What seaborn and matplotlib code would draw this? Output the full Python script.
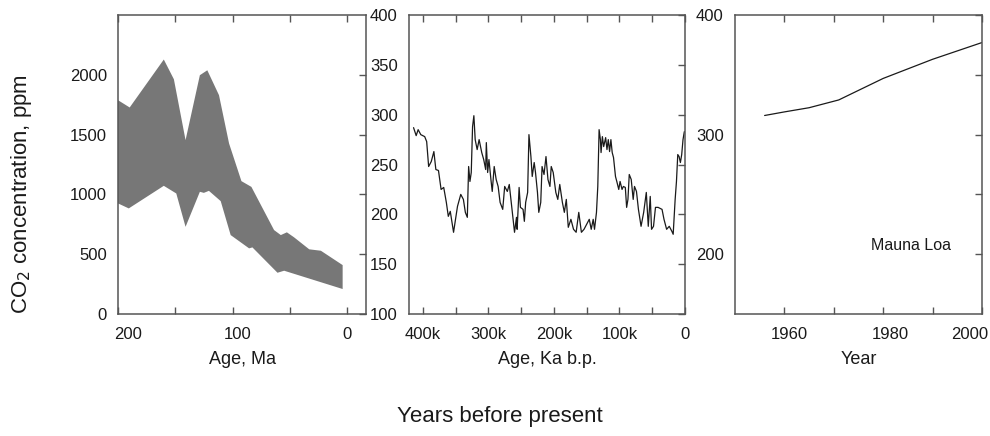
import numpy as np
import pandas as pd
import matplotlib
matplotlib.use('Agg')
import matplotlib.pyplot as plt
import matplotlib.transforms as mtrans
import seaborn as sns

sns.set_theme(style='ticks')
plt.rcParams['font.family'] = ['Liberation Sans', 'DejaVu Sans']

# Panel 1: CO2 range over the last 200 Ma (upper and lower bound)
upper_age = [200, 189.8, 160, 151.2, 141, 128.5, 122, 111.8, 103, 92.2, 83.5,
             63.7, 57.8, 52.5, 46.2, 33, 22.8, 3.8]
upper_co2 = [1788, 1727, 2128, 1963, 1454, 1997, 2038, 1830, 1426, 1111, 1063,
             702, 660, 683, 641, 541, 529, 409]
lower_age = [200, 190.6, 160, 149.1, 141, 128.5, 125, 120.6, 110.3, 101.6, 85.5,
             82.6, 60.7, 54.9, 3.8]
lower_co2 = [925, 883, 1072, 1008, 729, 1022, 1013, 1030, 944, 660, 549,
             557, 345, 362, 209]

# Panel 2: ice core record (ka before present)
ice_age = [414, 410, 407, 403, 397, 394, 391, 387, 383, 380, 376, 372, 368, 364,
           361, 358, 353, 347, 342, 338, 335, 332, 330, 328, 326, 324, 322, 320,
           317, 314, 310, 307, 304, 303, 301, 299, 296, 294, 291, 288, 285, 282,
           278, 275, 271, 268, 265, 262, 260, 257, 256, 253, 251, 247, 245, 243,
           240, 238, 235, 233, 230, 228, 225, 223, 220, 218, 215, 212, 209, 206,
           204, 201, 197, 194, 191, 187, 184, 181, 178, 174, 170, 166, 162, 158,
           154, 150, 146, 143, 140, 138, 135, 133, 131, 129, 128, 126, 124, 121,
           119, 117, 115, 113, 111, 109, 106, 104, 101, 99, 96, 94, 91, 89, 87,
           85, 82, 79, 77, 74, 71, 67, 63, 59, 56, 53, 51, 48, 45, 41, 35, 32,
           28, 24, 20, 18, 15, 13, 11, 9, 7, 5, 3, 1]
ice_co2 = [287, 279, 285, 280, 278, 273, 248, 253, 263, 245, 244, 225, 227, 212,
           198, 203, 182, 208, 220, 215, 202, 197, 248, 233, 242, 288, 299, 275,
           265, 275, 262, 255, 245, 272, 242, 255, 235, 223, 248, 235, 228, 212,
           205, 228, 223, 230, 212, 195, 182, 197, 185, 227, 207, 205, 193, 212,
           222, 280, 258, 238, 252, 242, 222, 202, 212, 248, 240, 258, 235, 228,
           248, 242, 222, 215, 230, 212, 202, 215, 187, 195, 185, 182, 202, 182,
           185, 190, 195, 185, 195, 185, 202, 228, 285, 275, 262, 278, 268, 277,
           265, 275, 263, 275, 262, 257, 238, 233, 225, 233, 225, 228, 227, 207,
           215, 240, 235, 215, 228, 223, 205, 188, 202, 222, 188, 218, 185, 188,
           207, 207, 205, 195, 185, 188, 183, 180, 215, 233, 260, 258, 252, 260,
           275, 283]

# Panel 3: Mauna Loa
ml_year = [1956, 1960, 1965, 1971, 1980, 1990, 2000]
ml_co2 = [316, 319, 322.5, 329, 347, 363, 377]

df_ice = pd.DataFrame({'age': ice_age, 'co2': ice_co2})
df_ml = pd.DataFrame({'year': ml_year, 'co2': ml_co2})

fig = plt.figure(figsize=(9.9, 4.36), dpi=100)
ax1 = fig.add_axes([0.1192, 0.2798, 0.2505, 0.6857])
ax2 = fig.add_axes([0.4131, 0.2798, 0.2788, 0.6857])
ax3 = fig.add_axes([0.7424, 0.2798, 0.2495, 0.6857])

text_c = '#1a1a1a'
spine_c = '#555555'

# panel 1 - filled band
ax1.fill(upper_age + lower_age[::-1], upper_co2 + lower_co2[::-1],
         color='#777777', lw=0)
ax1.set_xlim(200, -16.6)
ax1.set_ylim(0, 2500)
ax1.set_xticks([200, 150, 100, 50, 0])
ax1.set_xticklabels(['200', '', '100', '', '0'])
ax1.set_yticks([0, 500, 1000, 1500, 2000])
ax1.set_xlabel('Age, Ma')

# panel 2 - ice core
sns.lineplot(data=df_ice, x='age', y='co2', ax=ax2, color='#1a1a1a', lw=0.9,
             sort=False, estimator=None)
ax2.set_xlim(421, 0)
ax2.set_ylim(100, 400)
ax2.set_xticks(np.arange(400, -1, -50))
ax2.set_xticklabels(['400k', '', '300k', '', '200k', '', '100k', '', '0'])
ax2.set_yticks([100, 150, 200, 250, 300, 350, 400])
ax2.set_xlabel('Age, Ka b.p.')

# panel 3 - Mauna Loa
sns.lineplot(data=df_ml, x='year', y='co2', ax=ax3, color='#1a1a1a', lw=0.9)
ax3.set_xlim(1950, 2000)
ax3.set_ylim(150, 400)
ax3.set_xticks([1960, 1970, 1980, 1990, 2000])
ax3.set_xticklabels(['1960', '', '1980', '', '2000'])
ax3.set_yticks([200, 250, 300, 350, 400])
ax3.set_yticklabels(['200', '', '300', '', '400'])
ax3.set_xlabel('Year')
ax3.text(1985.7, 207.6, 'Mauna Loa', ha='center', va='center',
         fontsize=11.5, color=text_c)

for ax in (ax1, ax2, ax3):
    ax.set_ylabel('')
    for s in ax.spines.values():
        s.set_visible(True)
        s.set_color(spine_c)
        s.set_linewidth(1.1)
    ax.tick_params(which='both', direction='in', top=True, right=True,
                   bottom=True, left=False, length=5, width=1.0,
                   color=spine_c, labelsize=12, labelcolor=text_c, pad=9)
    ax.tick_params(axis='y', left=True, length=0, pad=8)
    ax.xaxis.label.set_size(13)
    ax.xaxis.label.set_color(text_c)
    ax.xaxis.labelpad = 7
    for t in ax.yaxis.get_major_ticks():
        t.tick2line.set_markersize(5)

# nudge a few tick labels the way the original figure places them
def nudge(label, dx_px):
    label.set_transform(label.get_transform() +
                        mtrans.ScaledTranslation(dx_px / 100, 0, fig.dpi_scale_trans))

fig.canvas.draw()
nudge(ax1.get_xticklabels()[0], 10)
nudge(ax1.get_xticklabels()[2], 5)
nudge(ax3.get_xticklabels()[0], 5)
nudge(ax3.get_xticklabels()[2], 7)
nudge(ax3.get_xticklabels()[4], -12)

fig.text(0.0222, 0.555, 'CO$_2$ concentration, ppm', rotation=90,
         ha='center', va='center', fontsize=16, color=text_c)
fig.text(0.505, 0.0436, 'Years before present', ha='center', va='center',
         fontsize=16, color=text_c)

plt.savefig('out.png', dpi=100)
